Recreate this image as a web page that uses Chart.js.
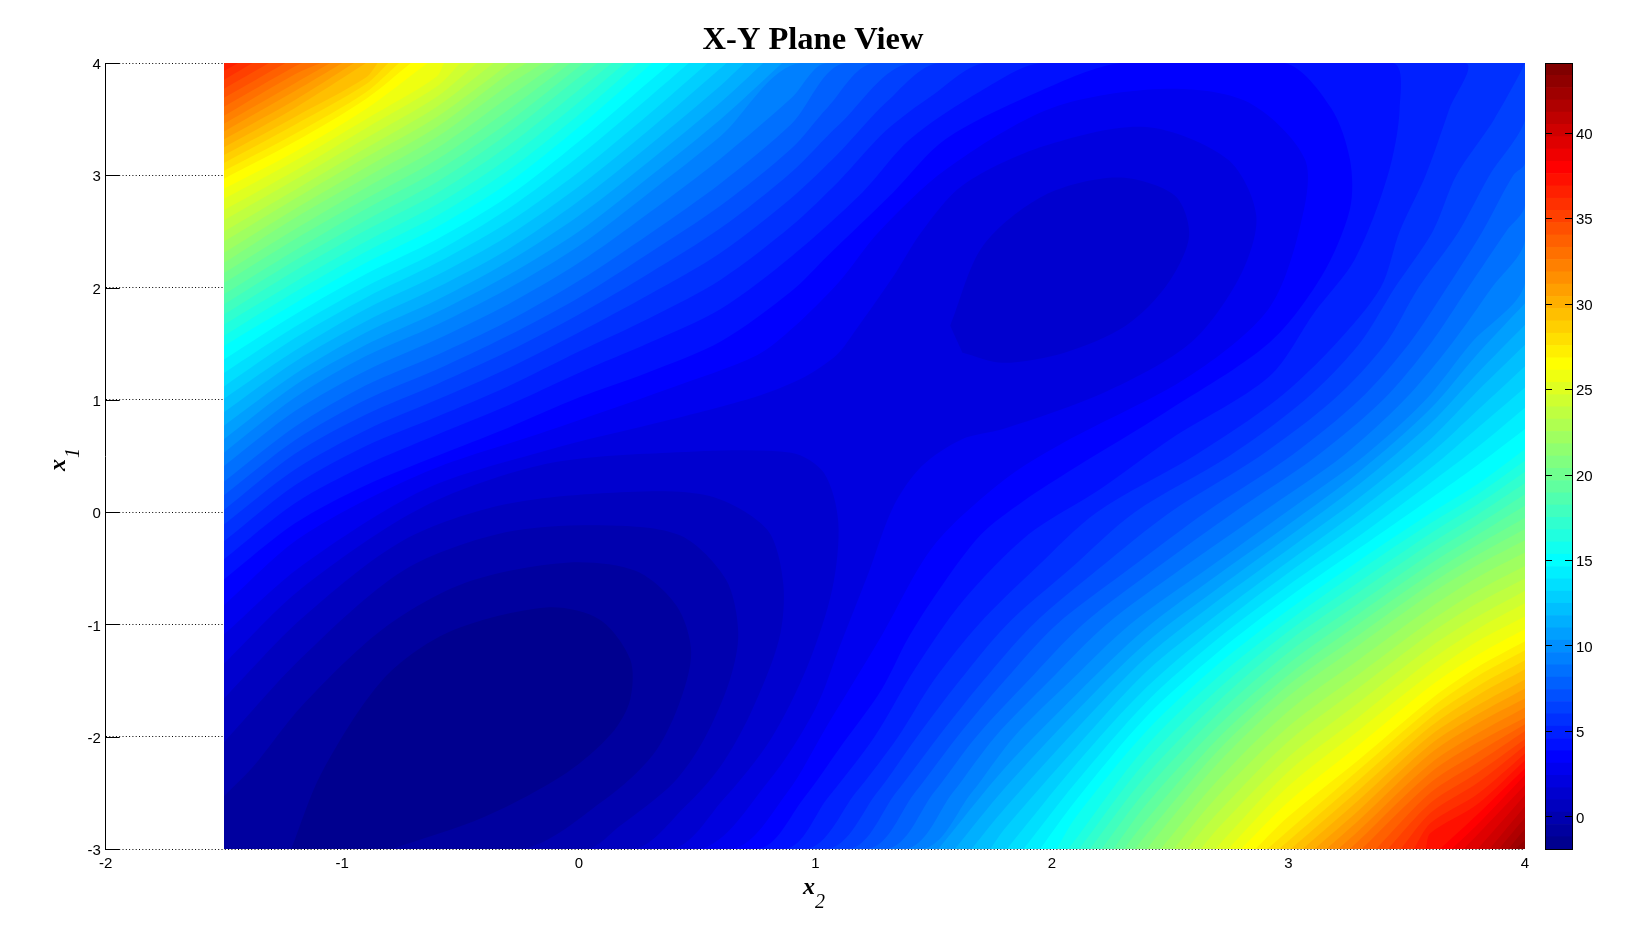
<!DOCTYPE html>
<html>
<head>
<meta charset="utf-8">
<title>X-Y Plane View</title>
<script src="https://cdn.jsdelivr.net/npm/chart.js@4/dist/chart.umd.min.js"></script>
<style>
  html, body { margin: 0; padding: 0; background: #fff; overflow: hidden; }
  canvas { position: absolute; top: 0; }
</style>
</head>
<body>
<canvas id="plane" width="1626" height="945" style="left:0"></canvas>
<canvas id="bar" width="92" height="945" style="left:1540px"></canvas>
<script>
const yTicks = [-3, -2, -1, 0, 1, 2, 3, 4];
const barTicks = [0, 5, 10, 15, 20, 25, 30, 35, 40];

// contour lines, [x2, x1]. number = colour band index
const band1 = [[-1.216,-3],[-1.087,-2.32],[-.828,-1.49],[-.551,-1.07],[-.137,-.85],[.087,-.955],[.217,-1.31],[.217,-1.67],[.139,-1.97],[-.051,-2.32],[-.396,-2.71],[-.79,-3]];
const band2 = [[-1.5,-2.53],[-1.378,-2.27],[-1.173,-1.73],[-.828,-1.04],[-.482,-.63],[-.051,-.45],[.242,-.525],[.415,-.84],[.475,-1.25],[.42,-1.73],[.31,-2.17],[.11,-2.56],[-.243,-3],[-1.5,-3]];
const band3 = [[-1.5,-2.05],[-1.173,-1.3],[-.741,-.52],[-.31,-.18],[.122,-.118],[.432,-.21],[.622,-.6],[.674,-1.07],[.639,-1.49],[.53,-2.02],[.4,-2.41],[.17,-2.8],[.032,-3],[-1.5,-3]];
const band4 = [[-1.5,-1.66],[-1.173,-.95],[-.741,-.25],[-.31,.07],[.208,.18],[.553,.144],[.795,-.153],[.864,-.63],[.847,-1.13],[.726,-1.79],[.6,-2.26],[.45,-2.62],[.229,-3],[-1.5,-3]];
const band5 = [[-1.5,-1.35],[-1.173,-.68],[-.655,.05],[-.137,.43],[.38,.53],[.898,.53],[1.036,.35],[1.097,-.09],[1.071,-.69],[.967,-1.37],[.812,-2.02],[.61,-2.56],[.39,-3],[-1.5,-3]];
const band5b = [[1.57,1.66],[1.708,2.37],[1.967,2.82],[2.278,2.98],[2.519,2.82],[2.58,2.46],[2.485,2.02],[2.312,1.66],[2.053,1.42],[1.794,1.33],[1.622,1.42]];
const band6 = [[-1.5,-1.09],[-1.173,-.48],[-.655,.2],[-.137,.55],[.38,.82],[.62,.95],[.78,1.05],[.95,1.2],[1.09,1.4],[1.17,1.62],[1.33,2.1],[1.45,2.5],[1.622,2.91],[1.967,3.26],[2.398,3.43],[2.744,3.14],[2.864,2.64],[2.795,2.1],[2.588,1.51],[2.226,1.07],[1.794,.74],[1.62,.65],[1.45,.41],[1.33,.05],[1.225,-.54],[1.104,-1.19],[1,-1.75],[.8,-2.4],[.504,-3],[-1.5,-3]];
const band7 = [[-1.5,-.83],[-1.173,-.22],[-.655,.35],[-.137,.72],[.38,1.1],[.755,1.4],[.91,1.65],[1.1,2.05],[1.27,2.5],[1.55,3.05],[2,3.6],[2.485,3.77],[2.83,3.65],[3.07,3.14],[3.05,2.55],[2.916,1.81],[2.58,1.21],[2.05,.62],[1.8,.29],[1.5,-.3],[1.28,-1.1],[1.05,-1.9],[.88,-2.5],[.645,-3],[-1.5,-3]];
const band8 = [[-1.5,-.6],[-1.2,-.1],[-.9,.24],[-.6,.5],[-.3,.75],[0,1.02],[.3,1.25],[.6,1.52],[.9,1.97],[1.05,2.28],[1.33,2.85],[1.55,3.32],[1.95,3.75],[2.29,4],[2.985,4],[3.18,3.6],[3.26,3.14],[3.26,2.7],[3.14,2.1],[2.92,1.51],[2.48,.89],[2.1,.4],[1.88,.1],[1.7,-.2],[1.52,-.7],[1.39,-1.13],[1.28,-1.58],[1.1,-2.11],[.95,-2.55],[.755,-3],[-1.5,-3]];
const band9 = [[-1.5,-.42],[-1.2,.08],[-.9,.42],[-.6,.69],[-.3,.95],[0,1.24],[.3,1.51],[.6,1.81],[.9,2.28],[1.2,2.85],[1.4,3.32],[1.7,3.75],[1.957,4],[3.44,4],[3.47,3.59],[3.42,3],[3.28,2.25],[3.11,1.78],[2.92,1.21],[2.5,.65],[2.2,.2],[1.9,-.2],[1.62,-.8],[1.42,-1.4],[1.25,-2],[1.05,-2.55],[.87,-3],[-1.5,-3]];
const band10 = [[-1.5,-.26],[-1.2,.24],[-.9,.59],[-.6,.85],[-.3,1.12],[0,1.43],[.3,1.73],[.6,2.07],[.9,2.55],[1.1,2.95],[1.3,3.4],[1.5,3.72],[1.72,4],[3.745,4],[3.68,3.59],[3.58,3],[3.47,2.5],[3.39,2],[3.2,1.5],[2.95,1],[2.6,.5],[2.19,0],[1.93,-.5],[1.69,-1],[1.5,-1.5],[1.35,-2],[1.17,-2.5],[.96,-3],[-1.5,-3]];
const band11 = [[-1.5,-.11],[-1.2,.38],[-.9,.73],[-.6,1],[-.3,1.28],[0,1.6],[.3,1.94],[.6,2.31],[.9,2.8],[1.1,3.2],[1.3,3.65],[1.525,4],[4,4],[3.87,3.5],[3.71,3],[3.61,2.5],[3.45,2],[3.3,1.5],[3.07,1],[2.75,.5],[2.35,0],[2.08,-.5],[1.81,-1],[1.61,-1.5],[1.43,-2],[1.26,-2.5],[1.05,-3],[-1.5,-3]];
const band12 = [[-1.5,.02],[-1.2,.52],[-.9,.87],[-.6,1.14],[-.3,1.43],[0,1.76],[.3,2.13],[.6,2.53],[.9,3.03],[1.1,3.45],[1.407,4],[4,4],[4,3.49],[3.85,3],[3.72,2.5],[3.55,2],[3.41,1.5],[3.19,1],[2.88,.5],[2.5,0],[2.2,-.5],[1.92,-1],[1.71,-1.5],[1.52,-2],[1.34,-2.5],[1.14,-3],[-1.5,-3]];
const band13 = [[-1.5,.15],[-1.2,.64],[-.9,1],[-.6,1.27],[-.3,1.57],[0,1.91],[.3,2.31],[.6,2.73],[.9,3.24],[1.05,3.6],[1.25,4],[4,4],[4,3.11],[3.95,3],[3.82,2.5],[3.67,2],[3.51,1.5],[3.3,1],[3.01,.5],[2.65,0],[2.33,-.5],[2.02,-1],[1.8,-1.5],[1.6,-2],[1.42,-2.5],[1.22,-3],[-1.5,-3]];
const band14 = [[-1.5,.27],[-1.2,.76],[-.9,1.13],[-.6,1.4],[-.3,1.7],[0,2.06],[.3,2.48],[.6,2.93],[.9,3.46],[1.13,4],[4,4],[4,2.73],[3.92,2.5],[3.76,2],[3.6,1.5],[3.4,1],[3.12,.5],[2.77,0],[2.44,-.5],[2.13,-1],[1.9,-1.5],[1.68,-2],[1.5,-2.5],[1.3,-3],[-1.5,-3]];
const band15 = [[-1.5,.41],[-1.2,.9],[-.9,1.26],[-.6,1.54],[-.3,1.85],[0,2.22],[.3,2.67],[.6,3.15],[.9,3.69],[1.05,4],[4,4],[4,2.42],[3.86,2],[3.69,1.5],[3.49,1],[3.23,.5],[2.89,0],[2.55,-.5],[2.23,-1],[1.99,-1.5],[1.76,-2],[1.58,-2.5],[1.38,-3],[-1.5,-3]];
const band16 = [[-1.5,.53],[-1.2,1.02],[-.9,1.39],[-.6,1.67],[-.3,1.99],[0,2.37],[.3,2.85],[.6,3.35],[.94,4],[4,4],[4,2.04],[3.77,1.5],[3.58,1],[3.32,.5],[2.99,0],[2.66,-.5],[2.33,-1],[2.08,-1.5],[1.84,-2],[1.66,-2.5],[1.45,-3],[-1.5,-3]];

// upper left corner: x1 at upperColumns, left aligned. last value = x2 where it meets the top edge
const upperColumns = [-1.5, -1.2, -.9, -.6, -.3, 0, .3, .6];
const upper17 = [.65,1.13,1.49,1.78,2.11,2.5,2.99,3.5,.86];
const upper18 = [.77,1.23,1.6,1.89,2.23,2.64,3.13,3.65,.78];
const upper19 = [.89,1.34,1.7,2,2.34,2.77,3.27,3.8,.7];
const upper20 = [1.01,1.44,1.81,2.11,2.46,2.9,3.41,.625];
const upper21 = [1.12,1.55,1.91,2.22,2.58,3.03,3.55,.545];
const upper22 = [1.24,1.65,2.01,2.32,2.7,3.17,3.7,.465];
const upper23 = [1.36,1.76,2.12,2.43,2.81,3.3,3.84,.39];
const upper24 = [1.48,1.86,2.22,2.54,2.93,3.43,.31];
const upper25 = [1.57,1.96,2.32,2.64,3.04,3.54,.25];
const upper26 = [1.67,2.05,2.41,2.74,3.15,3.65,.195];
const upper27 = [1.76,2.15,2.51,2.84,3.26,3.76,.14];
const upper28 = [1.85,2.24,2.6,2.94,3.37,3.87,.08];
const upper29 = [1.94,2.33,2.7,3.04,3.47,.02];
const upper30 = [2.04,2.43,2.79,3.14,3.58,-.035];
const upper31 = [2.13,2.52,2.89,3.24,3.69,-.09];
const upper32 = [2.22,2.62,2.98,3.34,3.8,-.15];
const upper33 = [2.31,2.7,3.07,3.43,3.9,-.22];
const upper34 = [2.41,2.79,3.16,3.52,-.29];
const upper35 = [2.5,2.87,3.24,3.61,-.36];
const upper36 = [2.6,2.96,3.33,3.7,-.43];
const upper37 = [2.69,3.04,3.42,3.79,-.5];
const upper38 = [2.79,3.13,3.5,3.88,-.57];
const upper39 = [2.88,3.21,3.59,-.64];
const upper40 = [2.97,3.3,3.68,-.71];
const upper41 = [3.04,3.37,3.74,-.76];
const upper42 = [3.11,3.45,3.81,-.805];
const upper43 = [3.18,3.52,3.87,-.85];
const upper44 = [3.25,3.6,-.9];
const upper45 = [3.32,3.67,-.95];
const upper46 = [3.39,3.75,-1];
const upper47 = [3.46,3.82,-1.05];
const upper48 = [3.53,3.9,-1.09];
const upper49 = [3.61,3.97,-1.17];
const upper50 = [3.69,-1.24];
const upper51 = [3.77,-1.31];
const upper52 = [3.85,-1.38];
const upper53 = [3.93,-1.44];

// lower right corner: first value = x2 where it leaves the bottom edge, rest is x1 at lowerColumns, right aligned
const lowerColumns = [1.8, 2.1, 2.4, 2.7, 3, 3.3, 3.6, 3.8, 4];
const lower17 = [1.52,-2.28,-1.63,-1.03,-.56,-.11,.36,.92,1.41,1.86];
const lower18 = [1.59,-2.46,-1.78,-1.16,-.68,-.22,.25,.79,1.24,1.67];
const lower19 = [1.66,-2.64,-1.94,-1.29,-.79,-.33,.13,.65,1.08,1.49];
const lower20 = [1.74,-2.82,-2.1,-1.42,-.91,-.44,.02,.52,.91,1.3];
const lower21 = [1.81,-2.25,-1.56,-1.02,-.54,-.09,.39,.75,1.11];
const lower22 = [1.88,-2.41,-1.69,-1.13,-.65,-.21,.26,.58,.93];
const lower23 = [1.95,-2.57,-1.82,-1.25,-.76,-.32,.12,.42,.74];
const lower24 = [2.02,-2.72,-1.95,-1.36,-.87,-.43,-.01,.25,.56];
const lower25 = [2.07,-2.08,-1.47,-.97,-.52,-.1,.16,.46];
const lower26 = [2.115,-2.21,-1.58,-1.06,-.62,-.19,.07,.36];
const lower27 = [2.16,-2.34,-1.69,-1.15,-.71,-.28,-.02,.26];
const lower28 = [2.21,-2.47,-1.8,-1.25,-.81,-.37,-.11,.16];
const lower29 = [2.26,-2.6,-1.91,-1.35,-.9,-.46,-.2,.06];
const lower30 = [2.305,-2.74,-2.02,-1.45,-.99,-.55,-.29,-.05];
const lower31 = [2.35,-2.87,-2.13,-1.54,-1.09,-.64,-.38,-.15];
const lower32 = [2.4,-2.24,-1.64,-1.18,-.73,-.47,-.25];
const lower33 = [2.46,-2.39,-1.77,-1.31,-.85,-.58,-.36];
const lower34 = [2.515,-2.53,-1.91,-1.44,-.97,-.7,-.48];
const lower35 = [2.57,-2.68,-2.04,-1.56,-1.08,-.81,-.59];
const lower36 = [2.63,-2.82,-2.18,-1.69,-1.2,-.93,-.7];
const lower37 = [2.69,-2.31,-1.82,-1.32,-1.04,-.81];
const lower38 = [2.745,-2.44,-1.94,-1.44,-1.15,-.93];
const lower39 = [2.8,-2.58,-2.07,-1.55,-1.27,-1.04];
const lower40 = [2.86,-2.71,-2.2,-1.67,-1.38,-1.15];
const lower41 = [2.91,-2.29,-1.75,-1.46,-1.23];
const lower42 = [2.96,-2.38,-1.83,-1.55,-1.32];
const lower43 = [3.01,-2.47,-1.91,-1.63,-1.4];
const lower44 = [3.06,-2.56,-1.99,-1.72,-1.49];
const lower45 = [3.11,-2.65,-2.07,-1.8,-1.57];
const lower46 = [3.16,-2.74,-2.15,-1.88,-1.66];
const lower47 = [3.21,-2.83,-2.24,-1.97,-1.74];
const lower48 = [3.26,-2.92,-2.32,-2.05,-1.83];
const lower49 = [3.31,-2.41,-2.14,-1.89];
const lower50 = [3.37,-2.5,-2.23,-1.95];
const lower51 = [3.42,-2.59,-2.32,-2.02];
const lower52 = [3.475,-2.68,-2.41,-2.08];
const lower53 = [3.53,-2.77,-2.51,-2.15];
const lower54 = [3.58,-2.86,-2.6,-2.21];
const lower55 = [3.64,-2.69,-2.28];
const lower56 = [3.69,-2.78,-2.34];
const lower57 = [3.74,-2.87,-2.43];
const lower58 = [3.8,-2.52];
const lower59 = [3.85,-2.62];
const lower60 = [3.89,-2.72];
const lower61 = [3.93,-2.82];
const lower62 = [3.96,-2.92];
const lower63 = [3.99,-2.98];

const barEdges = [-1.91,-1.19,-.47,.25,.97,1.68,2.4,3.12,3.84,4.56,5.28,6,6.72,7.43,8.15,8.87,9.59,10.31,11.03,11.75,12.47,13.18,13.9,14.62,15.34,16.06,16.78,17.5,18.22,18.93,19.65,20.37,21.09,21.81,22.53,23.25,23.97,24.68,25.4,26.12,26.84,27.56,28.28,29,29.72,30.43,31.15,31.87,32.59,33.31,34.03,34.75,35.47,36.18,36.9,37.62,38.34,39.06,39.78,40.5,41.22,41.93,42.65,43.37,44.09];

const upperLines = [[17,upper17],[18,upper18],[19,upper19],[20,upper20],[21,upper21],[22,upper22],[23,upper23],[24,upper24],[25,upper25],[26,upper26],[27,upper27],[28,upper28],[29,upper29],[30,upper30],[31,upper31],[32,upper32],[33,upper33],[34,upper34],[35,upper35],[36,upper36],[37,upper37],[38,upper38],[39,upper39],[40,upper40],[41,upper41],[42,upper42],[43,upper43],[44,upper44],[45,upper45],[46,upper46],[47,upper47],[48,upper48],[49,upper49],[50,upper50],[51,upper51],[52,upper52],[53,upper53]];
const lowerLines = [[17,lower17],[18,lower18],[19,lower19],[20,lower20],[21,lower21],[22,lower22],[23,lower23],[24,lower24],[25,lower25],[26,lower26],[27,lower27],[28,lower28],[29,lower29],[30,lower30],[31,lower31],[32,lower32],[33,lower33],[34,lower34],[35,lower35],[36,lower36],[37,lower37],[38,lower38],[39,lower39],[40,lower40],[41,lower41],[42,lower42],[43,lower43],[44,lower44],[45,lower45],[46,lower46],[47,lower47],[48,lower48],[49,lower49],[50,lower50],[51,lower51],[52,lower52],[53,lower53],[54,lower54],[55,lower55],[56,lower56],[57,lower57],[58,lower58],[59,lower59],[60,lower60],[61,lower61],[62,lower62],[63,lower63]];
const basins = [[16,band16],[15,band15],[14,band14],[13,band13],[12,band12],[11,band11],[10,band10],[9,band9],[8,band8],[7,band7],[6,band6],[5,band5],[5,band5b],[4,band4],[3,band3],[2,band2],[1,band1]];

function jet(t) {
  const c = v => Math.round(255 * Math.max(0, Math.min(1, v)));
  return `rgb(${c(1.5 - Math.abs(4 * t - 3))},${c(1.5 - Math.abs(4 * t - 2))},${c(1.5 - Math.abs(4 * t - 1))})`;
}

function upperPoints(line) {
  const last = line.length - 1;
  const pts = line.slice(0, last).map((v, i) => [upperColumns[i], v]);
  pts.push([line[last], 4]);
  return pts;
}

function lowerPoints(line) {
  const vals = line.slice(1);
  const cols = lowerColumns.slice(lowerColumns.length - vals.length);
  return [[line[0], -3]].concat(vals.map((v, i) => [cols[i], v]));
}

function area(line, color, fill, tension) {
  return {
    data: line.map(p => ({ x: p[0], y: p[1] })),
    backgroundColor: color,
    borderWidth: 0,
    pointRadius: 0,
    tension: tension,
    fill: fill,
  };
}

const planeSets = [];
planeSets.push(area([[-1.5, -3], [4, -3]], jet(17 / 64), "end", 0));
upperLines.forEach(([k, line]) => planeSets.push(area(upperPoints(line), jet((k + 1) / 64), "end", 0.3)));
lowerLines.forEach(([k, line]) => planeSets.push(area(lowerPoints(line), jet((k + 1) / 64), "start", 0.3)));
basins.forEach(([k, line]) => planeSets.push(area(line, jet(k / 64), "shape", 0.3)));
// first in the list has to be painted first
planeSets.forEach((set, i) => { set.order = planeSets.length - i; });

// matlab style ticks point into the axes, and the axis names have a subscript
const planeExtras = {
  id: "planeExtras",
  afterDraw(chart) {
    const { ctx, scales } = chart;
    ctx.save();
    ctx.strokeStyle = "#000";
    ctx.lineWidth = 1;
    yTicks.forEach(v => {
      const y = Math.round(scales.y.getPixelForValue(v)) + 0.5;
      ctx.beginPath();
      ctx.moveTo(scales.x.left, y);
      ctx.lineTo(scales.x.left + 14, y);
      ctx.stroke();
    });
    ctx.fillStyle = "#000";
    ctx.textAlign = "left";
    ctx.textBaseline = "alphabetic";
    ctx.font = 'italic bold 24px "Liberation Serif"';
    ctx.fillText("x", 803, 894);
    ctx.font = 'italic 20px "Liberation Serif"';
    ctx.fillText("2", 815, 908);
    ctx.translate(65, 471);
    ctx.rotate(-Math.PI / 2);
    ctx.font = 'italic bold 24px "Liberation Serif"';
    ctx.fillText("x", 0, 0);
    ctx.font = 'italic 20px "Liberation Serif"';
    ctx.fillText("1", 13, 14);
    ctx.restore();
  },
};

const barFrame = {
  id: "barFrame",
  afterDraw(chart) {
    const { ctx, chartArea: a, scales } = chart;
    ctx.save();
    ctx.strokeStyle = "#000";
    ctx.lineWidth = 1;
    ctx.strokeRect(a.left + 0.5, a.top + 0.5, a.right - a.left, a.bottom - a.top);
    barTicks.forEach(v => {
      const y = Math.round(scales.y.getPixelForValue(v)) + 0.5;
      ctx.beginPath();
      ctx.moveTo(a.left, y);
      ctx.lineTo(a.left + 7, y);
      ctx.moveTo(a.right - 7, y);
      ctx.lineTo(a.right, y);
      ctx.stroke();
    });
    ctx.restore();
  },
};

const tickFont = { family: "Liberation Sans", size: 15 };

new Chart(document.getElementById("plane"), {
  type: "line",
  data: { datasets: planeSets },
  plugins: [planeExtras],
  options: {
    responsive: false,
    animation: false,
    parsing: false,
    normalized: true,
    plugins: {
      legend: { display: false },
      tooltip: { enabled: false },
      title: {
        display: true,
        text: "X-Y Plane View",
        color: "#000",
        font: { family: "Liberation Serif", size: 32.5, weight: "bold" },
        padding: { top: 21, bottom: 3 },
      },
    },
    scales: {
      x: {
        type: "linear",
        min: -2,
        max: 4,
        afterFit: s => { s.height = 96; },
        ticks: { stepSize: 1, color: "#000", font: tickFont, padding: 6, maxRotation: 0 },
        grid: { display: false, drawTicks: false },
        border: { display: false },
      },
      y: {
        type: "linear",
        min: -3,
        max: 4,
        afterFit: s => { s.width = 105.73; },
        ticks: { stepSize: 1, color: "#000", font: tickFont, padding: 5, labelOffset: 2 },
        grid: { color: "#000", lineWidth: 1, drawTicks: false },
        border: { color: "#000", width: 1, dash: [1, 2.3] },
      },
      // keeps the room for the colour bar, so the title still centres on the whole figure
      gutter: {
        type: "linear",
        position: "right",
        display: true,
        afterFit: s => { s.width = 101; },
        ticks: { display: false },
        grid: { display: false, drawTicks: false },
        border: { display: false },
      },
    },
  },
});

const barSets = [];
for (let i = 0; i < barEdges.length - 1; i++) {
  barSets.push({
    data: [[barEdges[i], barEdges[i + 1]]],
    backgroundColor: jet((i + 1) / 64),
    borderWidth: 0,
    barPercentage: 1,
    categoryPercentage: 1,
    grouped: false,
  });
}

new Chart(document.getElementById("bar"), {
  type: "bar",
  data: { labels: [""], datasets: barSets },
  plugins: [barFrame],
  options: {
    responsive: false,
    animation: false,
    layout: { padding: { left: 5, top: 63, bottom: 96 } },
    plugins: { legend: { display: false }, tooltip: { enabled: false } },
    scales: {
      x: { display: false },
      y: {
        position: "right",
        min: -1.91,
        max: 44.09,
        afterFit: s => { s.width = 60; },
        afterBuildTicks: s => { s.ticks = barTicks.map(v => ({ value: v })); },
        ticks: { color: "#000", font: tickFont, padding: 4, labelOffset: 2 },
        grid: { display: false, drawTicks: false },
        border: { display: false },
      },
    },
  },
});
</script>
</body>
</html>
